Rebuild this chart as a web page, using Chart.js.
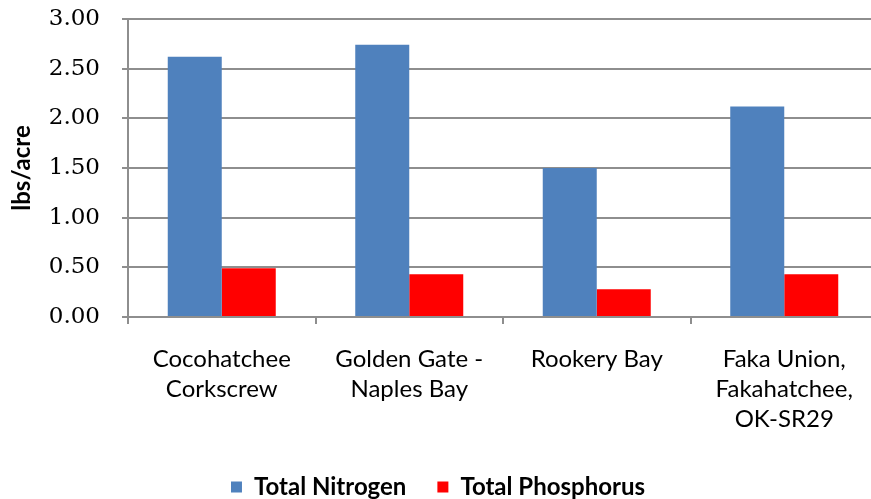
<!DOCTYPE html>
<html>
<head>
<meta charset="utf-8">
<script src="https://cdn.jsdelivr.net/npm/chart.js@4.4.1/dist/chart.umd.min.js"></script>
<style>
  html, body { margin: 0; padding: 0; background: #ffffff; overflow: hidden; }
  #wrap { position: relative; width: 884px; height: 499px; }
</style>
</head>
<body>
<div id="wrap"><canvas id="chart"></canvas></div>
<script>
// Nutrient loads per watershed basin (lbs/acre)
const basins = [
  ["Cocohatchee", "Corkscrew"],
  ["Golden Gate -", "Naples Bay"],
  ["Rookery Bay"],
  ["Faka Union,", "Fakahatchee,", "OK-SR29"]
];
const totalNitrogen = [2.62, 2.74, 1.50, 2.12];
const totalPhosphorus = [0.49, 0.43, 0.28, 0.43];
const seriesNames = ["Total Nitrogen", "Total Phosphorus"];
const yTicks = [0, 0.5, 1.0, 1.5, 2.0, 2.5, 3.0];

const labelFont = "Lato, 'Liberation Sans', sans-serif";
const tickFont = "'DejaVu Serif', 'Liberation Serif', serif";

// Nudge the legend box after layout (dx, dy in px)
const legendShift = {
  id: 'legendShift',
  afterLayout(chart) {
    const lg = chart.legend;
    if (!lg) return;
    const dx = -1, dy = -10;
    lg.left += dx; lg.right += dx;
    lg.top += dy; lg.bottom += dy;
  }
};

new Chart(document.getElementById('chart'), {
  type: 'bar',
  data: {
    labels: basins,
    datasets: [
      { label: seriesNames[0], data: totalNitrogen, backgroundColor: '#4F81BD',
        categoryPercentage: 0.576, barPercentage: 1.0 },
      { label: seriesNames[1], data: totalPhosphorus, backgroundColor: '#FF0000',
        categoryPercentage: 0.576, barPercentage: 1.0 }
    ]
  },
  plugins: [legendShift],
  options: {
    responsive: true,
    maintainAspectRatio: false,
    animation: false,
    layout: { padding: { top: 19, right: 6, bottom: -20, left: 0 } },
    plugins: {
      tooltip: { enabled: false },
      legend: {
        position: 'bottom',
        labels: {
          boxWidth: 11, boxHeight: 11, padding: 31,
          color: '#000000',
          font: { family: labelFont, size: 24, weight: 'bold' }
        }
      }
    },
    scales: {
      x: {
        offset: true,
        border: { display: true, color: '#8e8e8e', width: 2 },
        grid: { display: true, drawOnChartArea: false, drawTicks: true,
                tickLength: 7, color: '#8e8e8e', lineWidth: 2, offset: true },
        ticks: {
          color: '#000000', padding: 20, maxRotation: 0, autoSkip: false,
          font: { family: labelFont, size: 24, lineHeight: 1.25 }
        }
      },
      y: {
        min: 0, max: 3,
        afterBuildTicks(scale) { scale.ticks = yTicks.map(v => ({ value: v })); },
        // fixed axis width; no extra vertical padding for the end labels
        afterFit(scale) {
          scale.width = 128;
          scale.paddingTop = 0;
          scale.paddingBottom = 0;
        },
        border: { display: true, color: '#8e8e8e', width: 2 },
        grid: { color: '#8e8e8e', lineWidth: 2, tickLength: 6 },
        title: {
          display: true, text: 'lbs/acre', color: '#000000',
          font: { family: labelFont, size: 24, weight: 'bold' },
          padding: { top: 8, bottom: 0 }
        },
        ticks: {
          color: '#000000', padding: 22,
          font: { family: tickFont, size: 23 },
          callback: v => Number(v).toFixed(2)
        }
      }
    }
  }
});
</script>
</body>
</html>
